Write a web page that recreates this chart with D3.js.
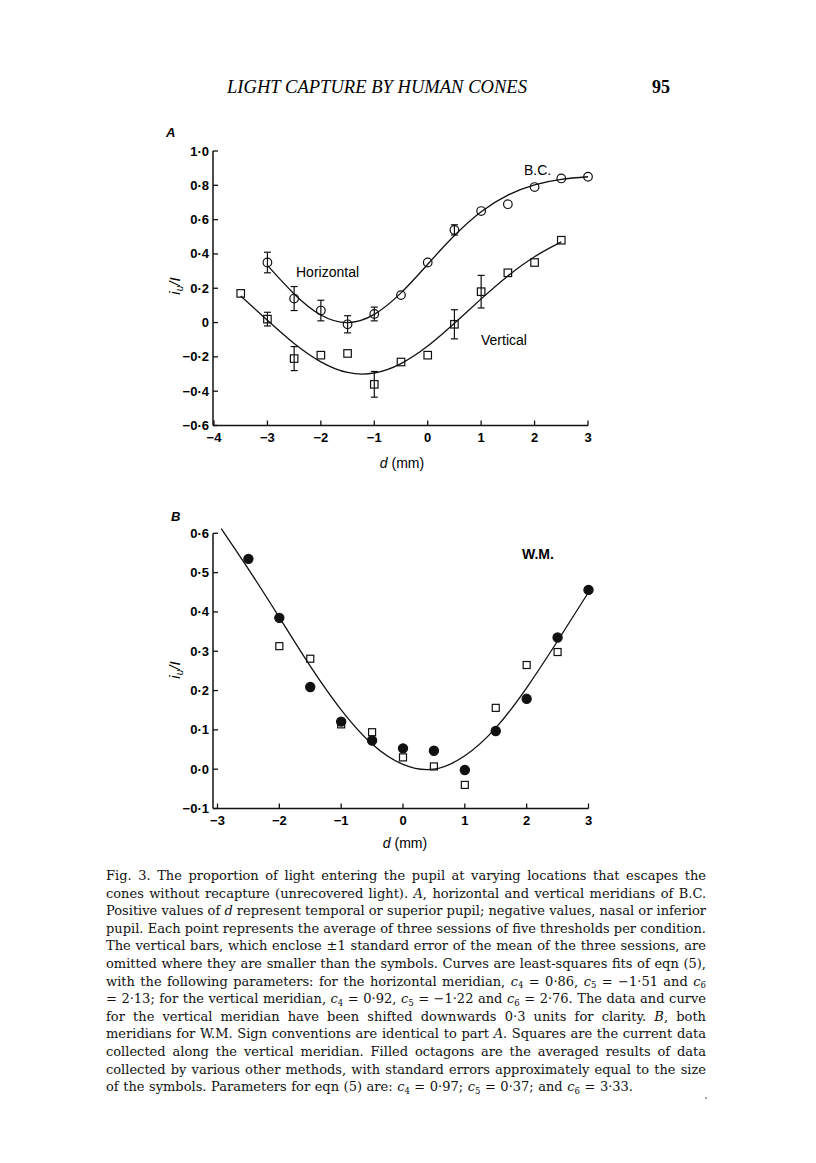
<!DOCTYPE html>
<html>
<head>
<meta charset="utf-8">
<script src="https://cdn.jsdelivr.net/npm/d3@7"></script>
<style>
  body { margin: 0; background: #fff; }
  svg { display: block; }
</style>
</head>
<body>
<svg id="fig" width="816" height="1163"></svg>
<script>

// ---- panel A data (B.C.) ----
var dA_h = [-3, -2.5, -2, -1.5, -1, -0.5, 0, 0.5, 1, 1.5, 2, 2.5, 3];
var horizontal = [0.35, 0.14, 0.07, -0.01, 0.05, 0.16, 0.35, 0.54, 0.65, 0.69, 0.79, 0.84, 0.85];
var horizontalErr = [0.06, 0.07, 0.06, 0.05, 0.04, 0, 0, 0.03, 0, 0, 0, 0, 0];

var dA_v = [-3.5, -3, -2.5, -2, -1.5, -1, -0.5, 0, 0.5, 1, 1.5, 2, 2.5];
var vertical = [0.17, 0.02, -0.21, -0.19, -0.18, -0.36, -0.23, -0.19, -0.01, 0.18, 0.29, 0.35, 0.48];
var verticalErr = [0, 0.04, 0.07, 0, 0, 0.075, 0, 0, 0.085, 0.095, 0, 0, 0];

// fitted curves
var fitA_h_d = [-3, -2.5, -2, -1.5, -1, -0.5, 0, 0.5, 1, 1.5, 2, 2.5, 3];
var fitA_h = [0.333, 0.167, 0.044, 0.0, 0.048, 0.173, 0.34, 0.507, 0.646, 0.743, 0.803, 0.835, 0.85];
var fitA_v_d = [-3.5, -3, -2.5, -2, -1.5, -1, -0.5, 0, 0.5, 1, 1.5, 2, 2.5];
var fitA_v = [0.155, 0.013, -0.122, -0.229, -0.291, -0.294, -0.239, -0.137, -0.004, 0.138, 0.272, 0.384, 0.47];

// ---- panel B data (W.M.) ----
var dB_oct = [-2.5, -2, -1.5, -1, -0.5, 0, 0.5, 1, 1.5, 2, 2.5, 3];
var octagons = [0.535, 0.385, 0.209, 0.121, 0.073, 0.053, 0.047, -0.002, 0.097, 0.179, 0.335, 0.456];
var dB_sq = [-2, -1.5, -1, -0.5, 0, 0.5, 1, 1.5, 2, 2.5];
var squares = [0.313, 0.281, 0.114, 0.094, 0.03, 0.007, -0.04, 0.156, 0.265, 0.298];

var fitB_d = [-2.94, -2.5, -2, -1.5, -1, -0.5, 0, 0.5, 1, 1.5, 2, 2.5, 3];
var fitB = [0.612, 0.509, 0.386, 0.262, 0.151, 0.064, 0.012, 0.0, 0.034, 0.105, 0.207, 0.326, 0.45];

// ---- axis ticks ----
var ticksA_x = [-4, -3, -2, -1, 0, 1, 2, 3];
var ticksA_y = [-0.6, -0.4, -0.2, 0, 0.2, 0.4, 0.6, 0.8, 1.0];
var labelsA_y = ["\u22120\u00b76", "\u22120\u00b74", "\u22120\u00b72", "0", "0\u00b72", "0\u00b74", "0\u00b76", "0\u00b78", "1\u00b70"];
var ticksB_x = [-3, -2, -1, 0, 1, 2, 3];
var ticksB_y = [-0.1, 0, 0.1, 0.2, 0.3, 0.4, 0.5, 0.6];
var labelsB_y = ["\u22120\u00b71", "0\u00b70", "0\u00b71", "0\u00b72", "0\u00b73", "0\u00b74", "0\u00b75", "0\u00b76"];

// *x* = italic, _n = subscript
var captionLines = [
	"Fig. 3. The proportion of light entering the pupil at varying locations that escapes the",
	"cones without recapture (unrecovered light). *A*, horizontal and vertical meridians of B.C.",
	"Positive values of *d* represent temporal or superior pupil; negative values, nasal or inferior",
	"pupil. Each point represents the average of three sessions of five thresholds per condition.",
	"The vertical bars, which enclose \u00b11 standard error of the mean of the three sessions, are",
	"omitted where they are smaller than the symbols. Curves are least-squares fits of eqn (5),",
	"with the following parameters: for the horizontal meridian, *c*_4 = 0\u00b786, *c*_5 = \u22121\u00b751 and *c*_6",
	"= 2\u00b713; for the vertical meridian, *c*_4 = 0\u00b792, *c*_5 = \u22121\u00b722 and *c*_6 = 2\u00b776. The data and curve",
	"for the vertical meridian have been shifted downwards 0\u00b73 units for clarity. *B*, both",
	"meridians for W.M. Sign conventions are identical to part *A*. Squares are the current data",
	"collected along the vertical meridian. Filled octagons are the averaged results of data",
	"collected by various other methods, with standard errors approximately equal to the size",
	"of the symbols. Parameters for eqn (5) are: *c*_4 = 0\u00b797; *c*_5 = 0\u00b737; and *c*_6 = 3\u00b733."
];


var svg = d3.select("#fig");
var sans = "'Liberation Sans', Arial, sans-serif";
var serif = "'Liberation Serif', 'Times New Roman', serif";
var capSerif = "'DejaVu Serif', serif";

// header
svg.append("text")
	.attr("x", 227).attr("y", 93)
	.attr("textLength", 300).attr("lengthAdjust", "spacingAndGlyphs")
	.style("font-family", serif).style("font-style", "italic").style("font-size", "18px")
	.text("LIGHT CAPTURE BY HUMAN CONES");
svg.append("text")
	.attr("x", 652).attr("y", 93)
	.style("font-family", serif).style("font-weight", "bold").style("font-size", "18px")
	.text("95");


function drawPanel(opt){
	var g = svg.append("g");
	var x = opt.x, y = opt.y;
	var x0 = opt.axisX, yBase = y(opt.yTicks[0]);

	// axes lines
	g.append("line").attr("x1", x0).attr("x2", x0)
		.attr("y1", y(opt.yTicks[opt.yTicks.length - 1])).attr("y2", yBase)
		.style("stroke", "#111").style("stroke-width", 1.5);
	g.append("line").attr("x1", x0).attr("x2", x.range()[1])
		.attr("y1", yBase).attr("y2", yBase)
		.style("stroke", "#111").style("stroke-width", 1.5);

	// ticks: pointing inwards
	g.selectAll("yt").data(opt.yTicks).enter().append("line")
		.attr("x1", x0).attr("x2", x0 + 5)
		.attr("y1", d => y(d)).attr("y2", d => y(d))
		.style("stroke", "#111").style("stroke-width", 1.3);
	g.selectAll("xt").data(opt.xTicks).enter().append("line")
		.attr("x1", d => x(d)).attr("x2", d => x(d))
		.attr("y1", yBase).attr("y2", yBase - 5)
		.style("stroke", "#111").style("stroke-width", 1.3);

	g.selectAll("yl").data(opt.yTicks).enter().append("text")
		.attr("x", x0 - 4).attr("y", d => y(d) + 4.5)
		.attr("text-anchor", "end")
		.style("font-family", sans).style("font-weight", "bold").style("font-size", "13px")
		.text((d, i) => opt.yLabels[i]);
	g.selectAll("xl").data(opt.xTicks).enter().append("text")
		.attr("x", d => x(d)).attr("y", yBase + 16)
		.attr("text-anchor", "middle")
		.style("font-family", sans).style("font-weight", "bold").style("font-size", "13px")
		.text(d => (d < 0 ? "\u2212" : "") + Math.abs(d));

	// panel letter
	g.append("text").attr("x", opt.letterPos[0]).attr("y", opt.letterPos[1])
		.style("font-family", sans).style("font-weight", "bold").style("font-style", "italic")
		.style("font-size", "13px").text(opt.letter);

	// axis titles
	var xt = g.append("text").attr("x", opt.xTitlePos[0]).attr("y", opt.xTitlePos[1])
		.attr("text-anchor", "middle")
		.style("font-family", sans).style("font-size", "14px");
	xt.append("tspan").style("font-style", "italic").text("d");
	xt.append("tspan").text(" (mm)");

	var yt = g.append("text")
		.attr("transform", "translate(" + opt.yTitlePos[0] + "," + opt.yTitlePos[1] + ") rotate(-90)")
		.attr("text-anchor", "middle")
		.style("font-family", sans).style("font-size", "15px").style("font-style", "italic");
	yt.append("tspan").text("i");
	yt.append("tspan").attr("dy", 3).style("font-size", "10px").text("u");
	yt.append("tspan").attr("dy", -3).text("/I");

	return g;
}

function drawCurve(g, x, y, ds, vs){
	var pts = ds.map((d, i) => [x(d), y(vs[i])]);
	g.append("path")
		.attr("d", d3.line().curve(d3.curveNatural)(pts))
		.style("fill", "none").style("stroke", "#111").style("stroke-width", 1.3);
}

function drawErr(g, x, y, ds, vs, es){
	ds.forEach(function(d, i){
		if (!es[i]) return;
		var cx = x(d), top = y(vs[i] + es[i]), bot = y(vs[i] - es[i]);
		g.append("line").attr("x1", cx).attr("x2", cx).attr("y1", top).attr("y2", bot)
			.style("stroke", "#111").style("stroke-width", 1.2);
		[top, bot].forEach(function(yy){
			g.append("line").attr("x1", cx - 3.5).attr("x2", cx + 3.5).attr("y1", yy).attr("y2", yy)
				.style("stroke", "#111").style("stroke-width", 1.2);
		});
	});
}

function drawCircles(g, x, y, ds, vs, filled){
	g.selectAll("foo").data(ds).enter().append("circle")
		.attr("cx", d => x(d)).attr("cy", (d, i) => y(vs[i]))
		.attr("r", filled ? 4.6 : 4.3)
		.style("fill", filled ? "#111" : "none")
		.style("stroke", "#111").style("stroke-width", 1.2);
}

function drawSquares(g, x, y, ds, vs, size){
	g.selectAll("foo").data(ds).enter().append("rect")
		.attr("x", d => x(d) - size / 2).attr("y", (d, i) => y(vs[i]) - size / 2)
		.attr("width", size).attr("height", size)
		.style("fill", "none")
		.style("stroke", "#111").style("stroke-width", 1.2);
}


// ---------- Panel A ----------
var xA = d3.scaleLinear().domain([-4, 3]).range([214, 588]);
var yA = d3.scaleLinear().domain([-0.6, 1.0]).range([425.5, 151]);

var gA = drawPanel({
	x: xA, y: yA, axisX: 213,
	xTicks: ticksA_x, yTicks: ticksA_y, yLabels: labelsA_y,
	letter: "A", letterPos: [166, 137],
	xTitlePos: [402, 468], yTitlePos: [180, 286]
});

drawCurve(gA, xA, yA, fitA_h_d, fitA_h);
drawCurve(gA, xA, yA, fitA_v_d, fitA_v);
drawErr(gA, xA, yA, dA_h, horizontal, horizontalErr);
drawErr(gA, xA, yA, dA_v, vertical, verticalErr);
drawCircles(gA, xA, yA, dA_h, horizontal, false);
drawSquares(gA, xA, yA, dA_v, vertical, 7.5);

gA.append("text").attr("x", 296).attr("y", 277)
	.style("font-family", sans).style("font-size", "14px").text("Horizontal");
gA.append("text").attr("x", 481).attr("y", 345)
	.style("font-family", sans).style("font-size", "14px").text("Vertical");
gA.append("text").attr("x", 524).attr("y", 175)
	.style("font-family", sans).style("font-size", "14px").text("B.C.");


// ---------- Panel B ----------
var xB = d3.scaleLinear().domain([-3, 3]).range([217.5, 588.5]);
var yB = d3.scaleLinear().domain([-0.1, 0.6]).range([808.5, 533.3]);

var gB = drawPanel({
	x: xB, y: yB, axisX: 213,
	xTicks: ticksB_x, yTicks: ticksB_y, yLabels: labelsB_y,
	letter: "B", letterPos: [171, 521],
	xTitlePos: [405, 848], yTitlePos: [180, 670]
});

drawCurve(gB, xB, yB, fitB_d, fitB);
drawSquares(gB, xB, yB, dB_sq, squares, 7);
drawCircles(gB, xB, yB, dB_oct, octagons, true);

gB.append("text").attr("x", 522).attr("y", 559)
	.style("font-family", sans).style("font-weight", "bold").style("font-size", "14px").text("W.M.");


// ---------- caption (justified with word-spacing) ----------
var cap = svg.append("g");
captionLines.forEach(function(line, i){
	var last = i == captionLines.length - 1;
	var t = cap.append("text")
		.attr("x", 106).attr("y", 880 + i * 17.6)
		.style("font-family", capSerif).style("font-size", "13px").style("fill", "#111");

	var sub = false;
	line.split(/(\*[^*]+\*|_\d)/).forEach(function(p){
		if (!p) return;
		if (p[0] == "*"){
			t.append("tspan").style("font-style", "italic").text(p.slice(1, -1));
		} else if (p[0] == "_"){
			t.append("tspan").attr("dy", 2.5).style("font-size", "8.5px").text(p.slice(1));
			sub = true;
		} else {
			var s = t.append("tspan").text(p);
			if (sub){ s.attr("dy", -2.5); sub = false; }
		}
	});

	var target = last ? 527 : 600;
	var w = t.node().getComputedTextLength();
	var nSpaces = line.split(" ").length - 1;
	t.style("word-spacing", ((target - w) / nSpaces).toFixed(2) + "px");
});

// stray mark on the page
svg.append("circle").attr("cx", 706).attr("cy", 1098).attr("r", 0.8).style("fill", "#333");

</script>
</body>
</html>
